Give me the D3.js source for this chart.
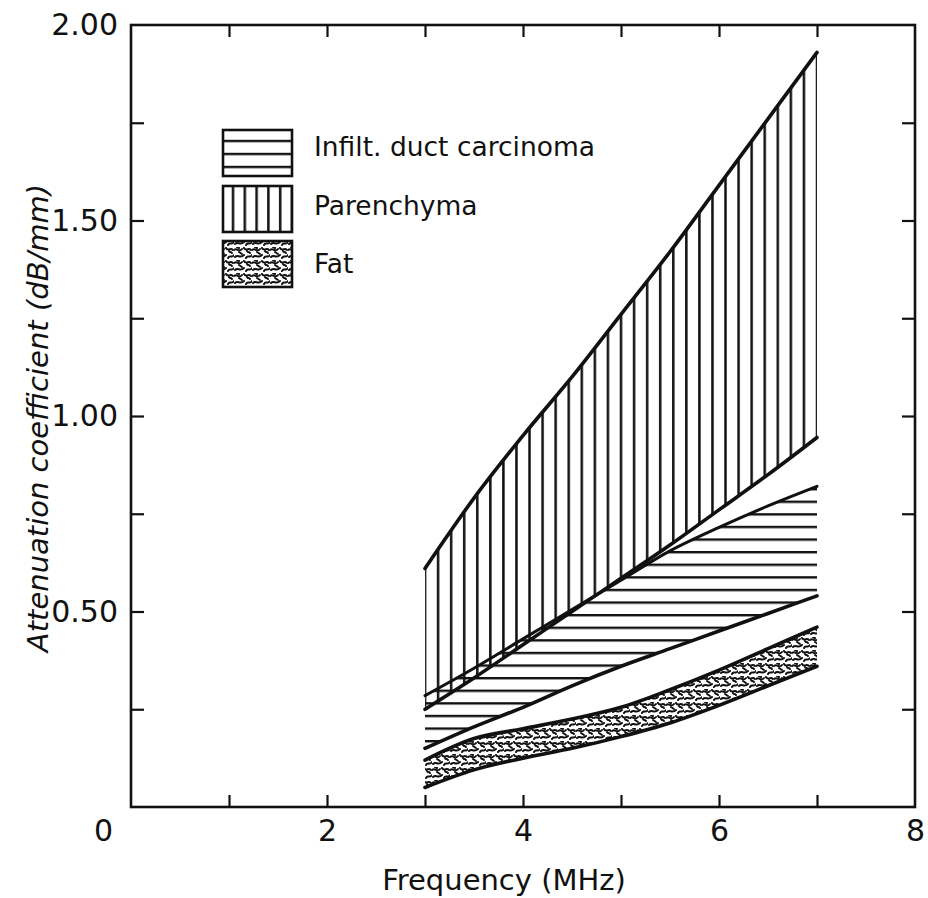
<!DOCTYPE html>
<html>
<head>
<script src="https://d3js.org/d3.v7.min.js"></script>
<style>
  body { margin: 0; background: #fff; }
  text { font-family: "DejaVu Sans", sans-serif; fill: #111; }
</style>
</head>
<body>
<div id="chart"></div>
<script>
// values (frequency in MHz, attenuation in dB/mm)
var freq = [3, 3.5, 4, 4.5, 5, 5.5, 6, 6.5, 7];
var parenchymaHigh = [0.61, 0.79, 0.95, 1.10, 1.26, 1.42, 1.59, 1.76, 1.93];
var parenchymaLow  = [0.25, 0.33, 0.415, 0.50, 0.585, 0.67, 0.76, 0.85, 0.945];
var carcinomaHigh  = [0.285, 0.355, 0.43, 0.505, 0.58, 0.655, 0.715, 0.77, 0.82];
var carcinomaLow   = [0.15, 0.205, 0.255, 0.31, 0.36, 0.405, 0.45, 0.495, 0.54];
var fatHigh = [0.12, 0.175, 0.20, 0.225, 0.255, 0.30, 0.35, 0.405, 0.46];
var fatLow  = [0.05, 0.095, 0.125, 0.15, 0.18, 0.215, 0.26, 0.31, 0.36];

var xLabels = [0, 2, 4, 6, 8];
var xTicks = [1, 2, 3, 4, 5, 6, 7];
var yLabels = [0.5, 1.0, 1.5, 2.0];
var yTicks = [0.25, 0.5, 0.75, 1.0, 1.25, 1.5, 1.75];
var legendLabels = ["Infilt. duct carcinoma", "Parenchyma", "Fat"];

var W = 928, H = 898;
var margin = {top: 25, right: 13, bottom: 91, left: 131};

var svg = d3.select("#chart").append("svg")
    .attr("width", W)
    .attr("height", H);

var x = d3.scaleLinear().domain([0, 8]).range([margin.left, W - margin.right]);
var y = d3.scaleLinear().domain([0, 2]).range([H - margin.bottom, margin.top]);

// patterns
var defs = svg.append("defs");

function vHatch(id, x0, step) {
  var p = defs.append("pattern").attr("id", id)
    .attr("patternUnits", "userSpaceOnUse")
    .attr("x", x0 - 1.3).attr("y", 0)
    .attr("width", step).attr("height", 10);
  p.append("line").attr("x1", 1.3).attr("x2", 1.3).attr("y1", -1).attr("y2", 11)
    .attr("stroke", "#111").attr("stroke-width", 2.5);
}
function hHatch(id, y0, step) {
  var p = defs.append("pattern").attr("id", id)
    .attr("patternUnits", "userSpaceOnUse")
    .attr("x", 0).attr("y", y0 - 1.2)
    .attr("width", 10).attr("height", step);
  p.append("line").attr("y1", 1.2).attr("y2", 1.2).attr("x1", -1).attr("x2", 11)
    .attr("stroke", "#111").attr("stroke-width", 2.4);
}
function fatTexture(id) {
  var p = defs.append("pattern").attr("id", id)
    .attr("patternUnits", "userSpaceOnUse")
    .attr("width", 18).attr("height", 13);
  p.append("rect").attr("width", 18).attr("height", 13).attr("fill", "#fff");
  var squiggles = [
    "M0,3 C3,0 5,6 8,2", "M10,1 C12,5 14,0 17,3", "M1,10 C4,7 6,12 10,8",
    "M12,11 C14,7 15,12 18,8", "M5,5 L8,7", "M13,4 C14,6 15,4 16,6",
    "M3,0 L5,1"
  ];
  squiggles.forEach(function(s) {
    p.append("path").attr("d", s).attr("fill", "none")
      .attr("stroke", "#111").attr("stroke-width", 2).attr("stroke-linecap", "round");
  });
}
vHatch("vhatch", x(3), (x(7) - x(3)) / 30);
hHatch("hhatch", 590, 12.6);
vHatch("vhatchLeg", 233, 11.8);
hHatch("hhatchLeg", 141, 13);
fatTexture("fat");

// data rows
var rows = freq.map(function(f, i) {
  return {f: f, pHi: parenchymaHigh[i], pLo: parenchymaLow[i],
          cHi: carcinomaHigh[i], cLo: carcinomaLow[i],
          fHi: fatHigh[i], fLo: fatLow[i]};
});

var curve = d3.curveMonotoneX;
function band(lo, hi) {
  return d3.area().curve(curve)
    .x(function(d) { return x(d.f); })
    .y0(function(d) { return y(d[lo]); })
    .y1(function(d) { return y(d[hi]); });
}
function edge(key) {
  return d3.line().curve(curve)
    .x(function(d) { return x(d.f); })
    .y(function(d) { return y(d[key]); });
}

svg.append("path").datum(rows).attr("d", band("fLo", "fHi")).attr("fill", "url(#fat)");
svg.append("path").datum(rows).attr("d", band("pLo", "pHi")).attr("fill", "url(#vhatch)");
svg.append("path").datum(rows).attr("d", band("cLo", "cHi")).attr("fill", "url(#hhatch)");

["pHi", "pLo", "cHi", "cLo", "fHi", "fLo"].forEach(function(k) {
  svg.append("path").datum(rows).attr("d", edge(k))
    .attr("fill", "none").attr("stroke", "#111")
    .attr("stroke-width", k == "cHi" ? 3 : 3.6)
    .attr("stroke-linecap", "round");
});

// frame
svg.append("rect")
  .attr("x", x(0)).attr("y", y(2))
  .attr("width", x(8) - x(0)).attr("height", y(0) - y(2))
  .attr("fill", "none").attr("stroke", "#111").attr("stroke-width", 2.6);

// axes with inward ticks
var fmt = d3.format(".2f");
var leftAxis = svg.append("g").attr("transform", "translate(" + x(0) + ",0)")
  .call(d3.axisLeft(y).tickValues(yTicks.concat([2])).tickSize(-13).tickPadding(13)
    .tickFormat(function(d) { return yLabels.indexOf(d) >= 0 ? fmt(d) : ""; }));
var rightAxis = svg.append("g").attr("transform", "translate(" + x(8) + ",0)")
  .call(d3.axisRight(y).tickValues(yTicks).tickSize(-13).tickFormat(""));
var bottomAxis = svg.append("g").attr("transform", "translate(0," + y(0) + ")")
  .call(d3.axisBottom(x).tickValues(xTicks.concat([0, 8])).tickSize(-12).tickPadding(13)
    .tickFormat(function(d) { return xLabels.indexOf(d) >= 0 ? d : ""; }));
var topAxis = svg.append("g").attr("transform", "translate(0," + y(2) + ")")
  .call(d3.axisTop(x).tickValues(xTicks).tickSize(-12).tickFormat(""));

[leftAxis, rightAxis, bottomAxis, topAxis].forEach(function(g) {
  g.select(".domain").remove();
  g.selectAll(".tick line").attr("stroke", "#111").attr("stroke-width", 2.2);
  g.selectAll(".tick text").style("font-family", "DejaVu Sans").style("font-size", "30px")
    .attr("fill", "#111");
});
bottomAxis.selectAll(".tick").filter(function(d) { return d == 0 || d == 8; }).select("line").remove();
leftAxis.selectAll(".tick").filter(function(d) { return d == 2; }).select("line").remove();
bottomAxis.selectAll(".tick text").filter(function(d) { return d == 0; }).attr("dx", -28);

// axis titles
svg.append("text")
  .attr("x", 504).attr("y", 890)
  .attr("text-anchor", "middle")
  .style("font-size", "29px")
  .text("Frequency (MHz)");

svg.append("text")
  .attr("transform", "translate(48,418) rotate(-90)")
  .attr("text-anchor", "middle")
  .style("font-size", "29px")
  .style("font-style", "italic")
  .text("Attenuation coefficient (dB/mm)");

// legend
var legendFills = ["url(#hhatchLeg)", "url(#vhatchLeg)", "url(#fat)"];
var legendY = [130, 186, 241];
var leg = svg.append("g");
legendLabels.forEach(function(name, i) {
  leg.append("rect")
    .attr("x", 223).attr("y", legendY[i])
    .attr("width", 69).attr("height", 46)
    .attr("fill", legendFills[i])
    .attr("stroke", "#111").attr("stroke-width", 2.6);
  leg.append("text")
    .attr("x", 314).attr("y", legendY[i] + 26 + i * 3)
    .style("font-size", "26.5px")
    .text(name);
});
</script>
</body>
</html>
